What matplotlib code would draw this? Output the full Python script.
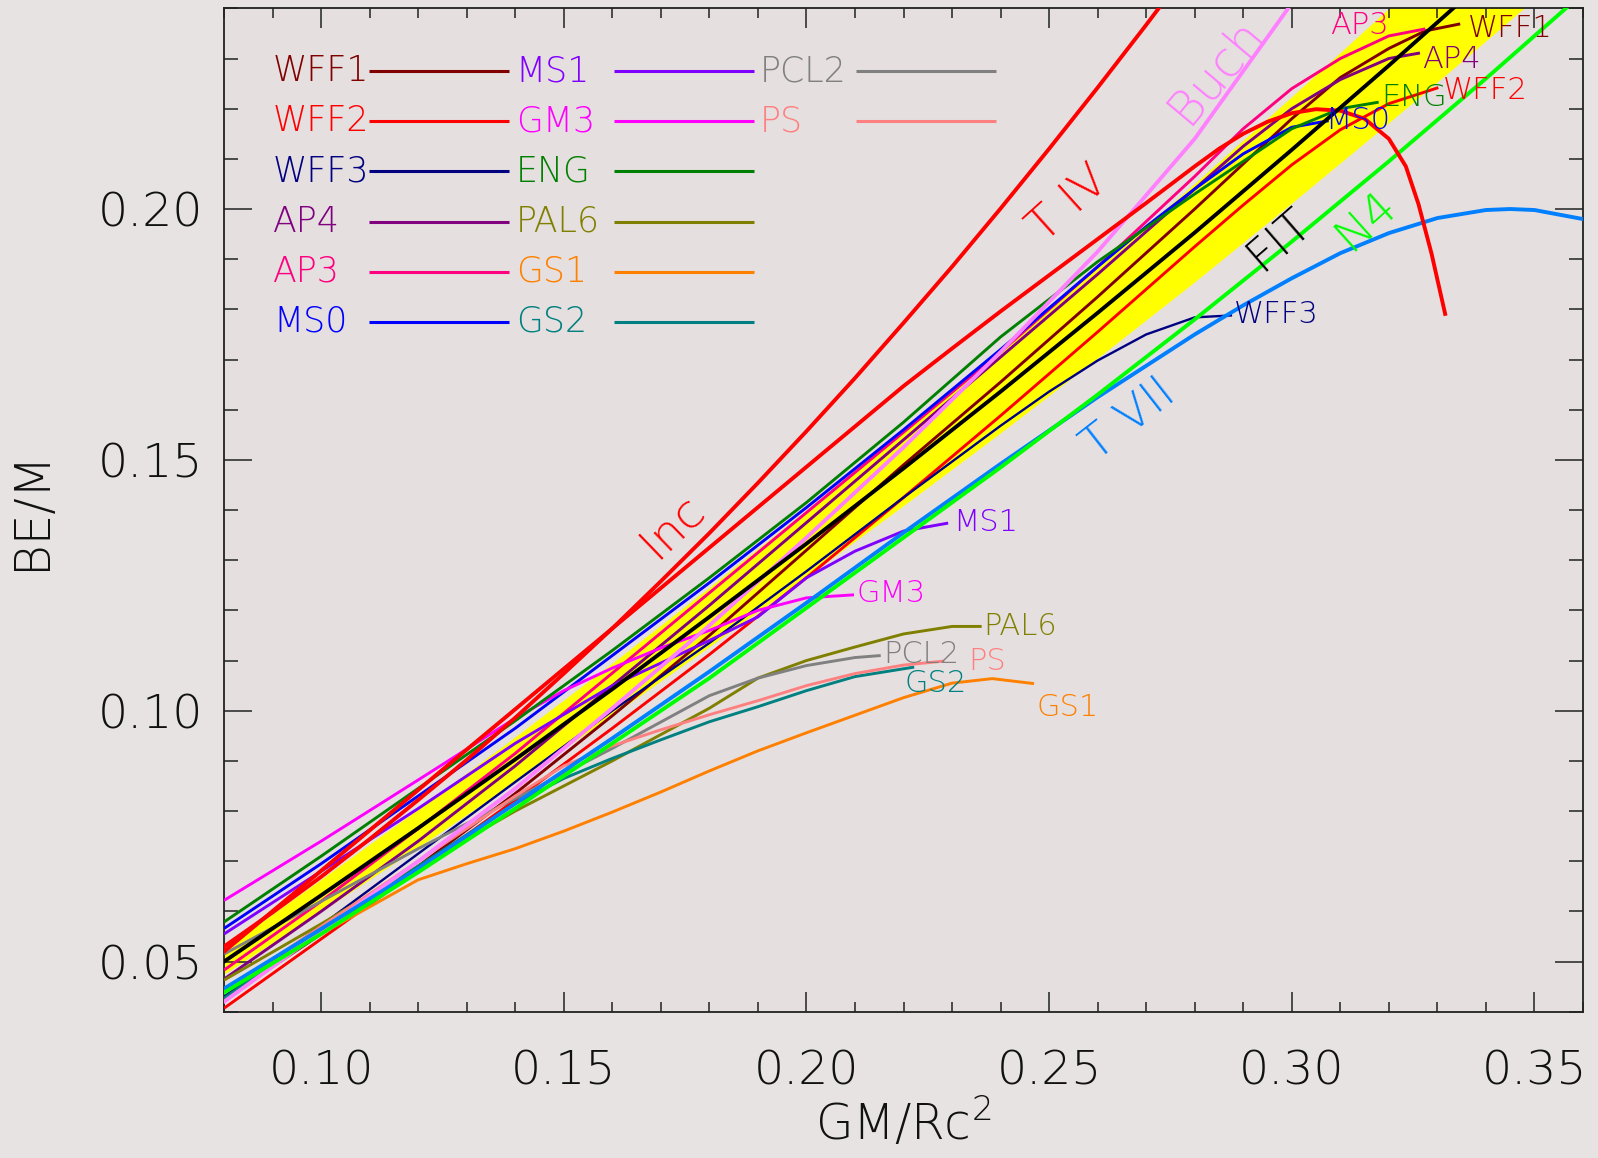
import matplotlib
matplotlib.use('Agg')
import matplotlib.pyplot as plt
from matplotlib.ticker import MultipleLocator, FormatStrFormatter

# ---------------- data ----------------
# FIT line and its yellow band
fit_x = [0.08, 0.10, 0.12, 0.14, 0.16, 0.18, 0.20, 0.22, 0.24, 0.26, 0.28, 0.30, 0.32, 0.34]
fit_y = [0.0500, 0.0632, 0.0766, 0.0903, 0.1043, 0.1187, 0.1333, 0.1483, 0.1636, 0.1793,
         0.1953, 0.2118, 0.2286, 0.2458]
band_x = [0.08, 0.10, 0.12, 0.14, 0.16, 0.18, 0.20, 0.22, 0.24, 0.26, 0.28, 0.30, 0.32, 0.34, 0.36]
band_lo = [0.0475, 0.0600, 0.0728, 0.0858, 0.0991, 0.1128, 0.1267, 0.1409, 0.1554, 0.1703,
           0.1855, 0.2012, 0.2172, 0.2335, 0.2502]
band_hi = [0.0525, 0.0664, 0.0804, 0.0948, 0.1095, 0.1246, 0.1400, 0.1557, 0.1718, 0.1883,
           0.2051, 0.2224, 0.2400, 0.2581, 0.2766]

# analytic solutions
inc_x = [0.08, 0.09, 0.10, 0.11, 0.12, 0.13, 0.14, 0.15, 0.16, 0.17, 0.18, 0.19, 0.20, 0.21,
         0.22, 0.23, 0.24, 0.25, 0.26, 0.27, 0.28]
inc_y = [0.0530, 0.0598, 0.0669, 0.0744, 0.0822, 0.0902, 0.0986, 0.1074, 0.1164, 0.1258,
         0.1354, 0.1454, 0.1557, 0.1663, 0.1773, 0.1885, 0.2001, 0.2120, 0.2242, 0.2367, 0.2495]
t4_x = [0.08, 0.10, 0.12, 0.14, 0.16, 0.18, 0.20, 0.22, 0.23, 0.24, 0.25, 0.26, 0.27, 0.28,
        0.285, 0.29, 0.295, 0.30, 0.305, 0.31, 0.315, 0.32, 0.3235, 0.3261, 0.3288, 0.3316]
t4_y = [0.0520, 0.0681, 0.0842, 0.1003, 0.1164, 0.1325, 0.1486, 0.1647, 0.1722, 0.1796,
        0.1868, 0.1940, 0.2012, 0.2085, 0.2120, 0.2150, 0.2174, 0.2191, 0.2199, 0.2196,
        0.2180, 0.2140, 0.2085, 0.2010, 0.1911, 0.1791]
buch_x = [0.08, 0.10, 0.12, 0.14, 0.16, 0.18, 0.20, 0.22, 0.24, 0.26, 0.28, 0.30]
buch_y = [0.0420, 0.0560, 0.0700, 0.0845, 0.1005, 0.1170, 0.1345, 0.1525, 0.1715, 0.1915,
          0.2140, 0.2410]
t7_x = [0.08, 0.10, 0.12, 0.14, 0.16, 0.18, 0.20, 0.22, 0.24, 0.26, 0.28, 0.29, 0.30, 0.31,
        0.32, 0.33, 0.34, 0.345, 0.35, 0.36]
t7_y = [0.0446, 0.0565, 0.0685, 0.0815, 0.0945, 0.1078, 0.1215, 0.1355, 0.1492, 0.1625,
        0.1750, 0.1808, 0.1862, 0.1912, 0.1952, 0.1982, 0.1998, 0.2000, 0.1998, 0.1980]
n4_x = [0.08, 0.10, 0.12, 0.14, 0.16, 0.18, 0.20, 0.22, 0.24, 0.26, 0.28, 0.30, 0.32, 0.34, 0.36]
n4_y = [0.0438, 0.0555, 0.0678, 0.0805, 0.0935, 0.1065, 0.1205, 0.1345, 0.1485, 0.1630,
        0.1780, 0.1935, 0.2095, 0.2260, 0.2430]

# equations of state
wff1_x = [0.08, 0.10, 0.12, 0.14, 0.16, 0.18, 0.20, 0.22, 0.24, 0.26, 0.28, 0.29, 0.30, 0.31,
          0.32, 0.3275, 0.3347]
wff1_y = [0.0425, 0.0555, 0.0690, 0.0835, 0.0990, 0.1150, 0.1320, 0.1490, 0.1655, 0.1825,
          0.2000, 0.2090, 0.2180, 0.2262, 0.2320, 0.2355, 0.2369]
wff2_x = [0.08, 0.10, 0.12, 0.14, 0.16, 0.18, 0.20, 0.22, 0.24, 0.26, 0.28, 0.29, 0.30, 0.31,
          0.32, 0.3302]
wff2_y = [0.0407, 0.0545, 0.0683, 0.0822, 0.0965, 0.1112, 0.1265, 0.1425, 0.1588, 0.1755,
          0.1925, 0.2008, 0.2088, 0.2158, 0.2210, 0.2242]
wff3_x = [0.08, 0.10, 0.12, 0.14, 0.16, 0.18, 0.20, 0.22, 0.24, 0.25, 0.26, 0.27, 0.28, 0.2877]
wff3_y = [0.0430, 0.0572, 0.0715, 0.0858, 0.1000, 0.1135, 0.1278, 0.1425, 0.1568, 0.1636,
          0.1698, 0.1750, 0.1784, 0.1788]
ap4_x = [0.08, 0.10, 0.12, 0.14, 0.16, 0.18, 0.20, 0.22, 0.24, 0.26, 0.28, 0.29, 0.30, 0.31,
         0.32, 0.3264]
ap4_y = [0.0465, 0.0600, 0.0740, 0.0890, 0.1050, 0.1210, 0.1375, 0.1540, 0.1705, 0.1870,
         0.2040, 0.2125, 0.2200, 0.2258, 0.2300, 0.2311]
ap3_x = [0.08, 0.10, 0.12, 0.14, 0.16, 0.18, 0.20, 0.22, 0.24, 0.26, 0.28, 0.29, 0.30, 0.31,
         0.32, 0.3275]
ap3_y = [0.0483, 0.0620, 0.0765, 0.0915, 0.1075, 0.1235, 0.1395, 0.1555, 0.1715, 0.1885,
         0.2065, 0.2160, 0.2240, 0.2300, 0.2345, 0.2359]
ms0_x = [0.08, 0.10, 0.12, 0.14, 0.16, 0.18, 0.20, 0.22, 0.24, 0.26, 0.27, 0.28, 0.29, 0.30,
         0.3076]
ms0_y = [0.0566, 0.0695, 0.0830, 0.0965, 0.1110, 0.1255, 0.1405, 0.1560, 0.1720, 0.1885,
         0.1965, 0.2040, 0.2110, 0.2163, 0.2176]
ms1_x = [0.08, 0.10, 0.12, 0.14, 0.16, 0.18, 0.19, 0.20, 0.21, 0.22, 0.2292]
ms1_y = [0.0555, 0.0680, 0.0805, 0.0935, 0.1050, 0.1140, 0.1187, 0.1265, 0.1318, 0.1358, 0.1374]
gm3_x = [0.08, 0.10, 0.12, 0.14, 0.15, 0.16, 0.17, 0.18, 0.19, 0.20, 0.2098]
gm3_y = [0.0622, 0.0740, 0.0862, 0.0985, 0.1040, 0.1085, 0.1125, 0.1160, 0.1200, 0.1225, 0.1231]
eng_x = [0.08, 0.10, 0.12, 0.14, 0.16, 0.18, 0.20, 0.22, 0.24, 0.26, 0.28, 0.29, 0.30, 0.31,
         0.3179]
eng_y = [0.0579, 0.0710, 0.0845, 0.0980, 0.1120, 0.1265, 0.1415, 0.1575, 0.1745, 0.1895,
         0.2030, 0.2095, 0.2160, 0.2200, 0.2213]
pal6_x = [0.08, 0.10, 0.12, 0.14, 0.16, 0.18, 0.19, 0.20, 0.21, 0.22, 0.23, 0.2361]
pal6_y = [0.0463, 0.0575, 0.0690, 0.0800, 0.0900, 0.1005, 0.1065, 0.1100, 0.1127, 0.1153,
          0.1168, 0.1168]
gs1_x = [0.08, 0.10, 0.12, 0.13, 0.14, 0.15, 0.16, 0.17, 0.18, 0.19, 0.20, 0.21, 0.22, 0.23,
         0.2383, 0.2469]
gs1_y = [0.0443, 0.0555, 0.0663, 0.0695, 0.0725, 0.0760, 0.0798, 0.0838, 0.0880, 0.0920,
         0.0956, 0.0991, 0.1026, 0.1055, 0.1064, 0.1054]
gs2_x = [0.08, 0.10, 0.12, 0.14, 0.15, 0.16, 0.17, 0.18, 0.19, 0.20, 0.21, 0.2222]
gs2_y = [0.0427, 0.0560, 0.0690, 0.0815, 0.0865, 0.0905, 0.0942, 0.0978, 0.1008, 0.1040,
         0.1068, 0.1087]
pcl2_x = [0.08, 0.10, 0.12, 0.14, 0.16, 0.18, 0.19, 0.20, 0.21, 0.2153]
pcl2_y = [0.0515, 0.0620, 0.0725, 0.0825, 0.0925, 0.1030, 0.1065, 0.1090, 0.1106, 0.1110]
ps_x = [0.08, 0.10, 0.12, 0.14, 0.15, 0.16, 0.17, 0.18, 0.19, 0.20, 0.21, 0.22, 0.2284]
ps_y = [0.0440, 0.0570, 0.0700, 0.0830, 0.0890, 0.0930, 0.0962, 0.0992, 0.1020, 0.1050,
        0.1074, 0.1091, 0.1099]

eos_names = ['WFF1', 'WFF2', 'WFF3', 'AP4', 'AP3', 'MS0', 'MS1', 'GM3', 'ENG', 'PAL6',
             'GS1', 'GS2', 'PCL2', 'PS']
eos_colors = ['#800000', '#ff0000', '#000080', '#800080', '#ff0080', '#0000ff', '#8000ff',
              '#ff00ff', '#008000', '#808000', '#ff8000', '#008080', '#808080', '#ff8080']
eos_data = [(wff1_x, wff1_y), (wff2_x, wff2_y), (wff3_x, wff3_y), (ap4_x, ap4_y),
            (ap3_x, ap3_y), (ms0_x, ms0_y), (ms1_x, ms1_y), (gm3_x, gm3_y), (eng_x, eng_y),
            (pal6_x, pal6_y), (gs1_x, gs1_y), (gs2_x, gs2_y), (pcl2_x, pcl2_y), (ps_x, ps_y)]
# end-of-curve label anchors (left edge of text)
eos_label_pos = [(0.3363, 0.2359), (0.3311, 0.2237), (0.2880, 0.1790), (0.3268, 0.2298),
                 (0.3079, 0.2365), (0.3069, 0.2176), (0.2302, 0.1376), (0.2103, 0.1233),
                 (0.3184, 0.2223), (0.2365, 0.1168), (0.2474, 0.1006), (0.2203, 0.1054),
                 (0.2159, 0.1113), (0.2334, 0.1099)]

# ---------------- figure ----------------
FONT = 'DejaVu Sans'
W = 200
plt.rcParams['font.family'] = [FONT]
plt.rcParams['font.weight'] = W
plt.rcParams['axes.labelweight'] = W
plt.rcParams['mathtext.default'] = 'regular'

fig = plt.figure(figsize=(15.98, 11.58), dpi=100)
fig.patch.set_facecolor('#e6e3e2')
ax = fig.add_axes([0.1402, 0.1263, 0.8504, 0.8665])
ax.set_facecolor('#e5dfdf')
ax.set_xlim(0.08, 0.36)
ax.set_ylim(0.04, 0.24)

ax.fill_between(band_x, band_lo, band_hi, color='#ffff00', lw=0, zorder=1)

for name, (xs, ys), c in zip(eos_names, eos_data, eos_colors):
    lw = 1.7 if name == 'WFF3' else 2.1
    ax.plot(xs, ys, color=c, lw=lw, zorder=3, solid_capstyle='butt')

MOD_LW = 2.8
ax.plot(buch_x, buch_y, color='#ff80ff', lw=MOD_LW, zorder=4)
ax.plot(t7_x, t7_y, color='#0080ff', lw=MOD_LW, zorder=4)
ax.plot(n4_x, n4_y, color='#00ff00', lw=MOD_LW, zorder=4)
ax.plot(inc_x, inc_y, color='#ff0000', lw=MOD_LW, zorder=4)
ax.plot(t4_x, t4_y, color='#ff0000', lw=MOD_LW, zorder=4)
ax.plot(fit_x, fit_y, color='#000000', lw=MOD_LW, zorder=5)

# curve labels
for txt, x, y, rot, c, fs in [('Inc', 0.1724, 0.1368, 44, '#ff0000', 34),
                               ('T IV', 0.2541, 0.2010, 42, '#ff0000', 34),
                               ('Buch', 0.2843, 0.2276, 50, '#ff80ff', 35),
                               ('FIT', 0.2973, 0.1940, 41, '#000000', 34),
                               ('N4', 0.3153, 0.1977, 42, '#00ff00', 34),
                               ('T VII', 0.2665, 0.1580, 38, '#0080ff', 34)]:
    ax.text(x, y, txt, rotation=rot, color=c, fontsize=fs, ha='center', va='center',
            rotation_mode='anchor', zorder=6)

# end labels
for name, c, (x, y) in zip(eos_names, eos_colors, eos_label_pos):
    ax.text(x, y, name, color=c, fontsize=22, ha='left', va='center', zorder=6)

# legend block
leg_text_x = [0.0901, 0.1401, 0.1903]
leg_line_x = [(0.1098, 0.1388), (0.1603, 0.1892), (0.2103, 0.2390)]
leg_row_y = [0.2275, 0.2175, 0.2075, 0.1975, 0.1875, 0.1775]
for i, (name, c) in enumerate(zip(eos_names, eos_colors)):
    col, row = divmod(i, 6)
    ax.text(leg_text_x[col], leg_row_y[row], name, color=c, fontsize=25,
            ha='left', va='center', zorder=6)
    ax.plot(leg_line_x[col], [leg_row_y[row]] * 2, color=c, lw=2.2, zorder=6,
            solid_capstyle='butt')

# axes styling
ax.xaxis.set_major_locator(MultipleLocator(0.05))
ax.xaxis.set_minor_locator(MultipleLocator(0.01))
ax.yaxis.set_major_locator(MultipleLocator(0.05))
ax.yaxis.set_minor_locator(MultipleLocator(0.01))
ax.xaxis.set_major_formatter(FormatStrFormatter('%.2f'))
ax.yaxis.set_major_formatter(FormatStrFormatter('%.2f'))
ax.tick_params(which='both', direction='in', top=True, right=True, width=1.1,
               color='#222222', labelsize=34, labelcolor='#111111')
ax.tick_params(axis='x', which='major', length=14.5, pad=27)
ax.tick_params(axis='x', which='minor', length=7.2)
ax.tick_params(axis='y', which='major', length=20, pad=15)
ax.tick_params(axis='y', which='minor', length=10)
for lab in ax.get_xticklabels() + ax.get_yticklabels():
    lab.set_fontweight(W)
for s in ax.spines.values():
    s.set_linewidth(1.3)
    s.set_color('#222222')

ax.set_xlabel('GM/Rc$^{2}$', fontsize=35, color='#111111', labelpad=2, fontweight=W)
ax.set_ylabel('BE/M', fontsize=35, color='#111111', labelpad=31, fontweight=W)

fig.savefig('out.png', dpi=100, facecolor=fig.get_facecolor())
